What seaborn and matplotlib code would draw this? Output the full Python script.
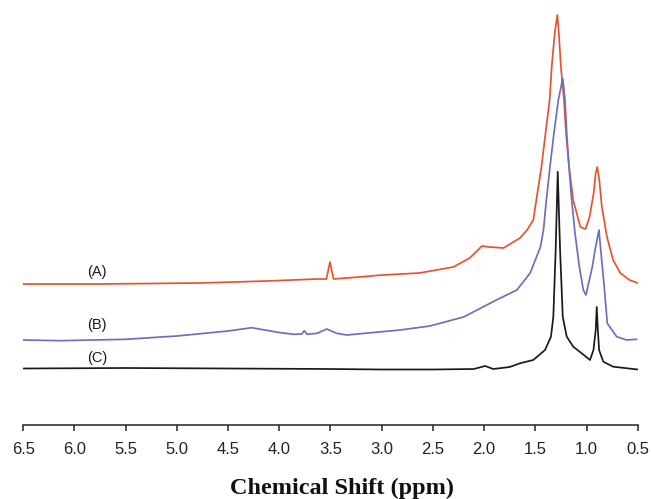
import matplotlib
matplotlib.use("Agg")
import matplotlib.pyplot as plt
from matplotlib.patches import Rectangle
import seaborn as sns

# ---- data (chemical shift in ppm, intensity in arbitrary units) ----
red_ppm = [6.50, 5.75, 4.77, 4.12, 3.63, 3.54, 3.505, 3.47, 3.34, 2.99, 2.63, 2.30,
           2.14, 2.02, 1.95, 1.81, 1.65, 1.58, 1.52, 1.49, 1.44, 1.40, 1.36, 1.34,
           1.31, 1.285, 1.27, 1.25, 1.22, 1.20, 1.17, 1.13, 1.06, 1.01, 0.97, 0.93,
           0.91, 0.895, 0.875, 0.85, 0.80, 0.74, 0.67, 0.58, 0.50]
red_int = [141, 141, 142, 144, 146, 146, 163, 146, 147, 150, 152, 158,
           167, 179, 178, 177, 187, 195, 205, 225, 258, 292, 325, 358,
           392, 410, 392, 358, 325, 292, 258, 225, 198, 196, 208, 232,
           252, 258, 245, 218, 188, 165, 152, 145, 142]

blue_ppm = [6.50, 6.14, 5.50, 5.00, 4.50, 4.27, 3.99, 3.86, 3.78, 3.756, 3.73, 3.63,
            3.537, 3.44, 3.34, 2.82, 2.53, 2.20, 1.88, 1.68, 1.55, 1.45, 1.42, 1.395,
            1.357, 1.318, 1.275, 1.232, 1.21, 1.193, 1.171, 1.145, 1.112, 1.07,
            1.031, 1.005, 0.943, 0.917, 0.878, 0.861, 0.83, 0.797, 0.705, 0.607,
            0.51]
blue_int = [85, 84.3, 85.7, 89, 94, 97.3, 92.3, 90.7, 91, 94.3, 90.7, 91.7,
            96, 91.7, 90, 95, 99, 108, 125, 135, 152, 178, 195, 222,
            258, 291.7, 325, 346.7, 325, 291.7, 258.3, 225, 191.7, 158.3,
            135, 130, 158.3, 175, 195, 175, 141.7, 101.7, 88.3, 85, 85.7]

black_ppm = [6.50, 5.50, 4.50, 3.50, 3.00, 2.50, 2.10, 1.99, 1.91, 1.75, 1.65, 1.52,
             1.405, 1.347, 1.324, 1.301, 1.281, 1.258, 1.232, 1.193, 1.129, 1.047,
             0.966, 0.932, 0.910, 0.900, 0.889, 0.877, 0.836, 0.74, 0.50]
black_int = [56.5, 57, 56.5, 56, 55.5, 55.5, 56, 59, 56, 58, 61.7, 65, 75,
             88.3, 108.3, 175, 253.3, 175, 108.3, 88.3, 78.3, 71.7, 65,
             75, 95, 118, 95, 75, 63.3, 58.3, 55.5]

trace_labels = ["(A)", "(B)", "(C)"]
label_ppm = [5.78, 5.78, 5.78]
label_int = [153, 99.7, 67]

tick_values = [6.5, 6.0, 5.5, 5.0, 4.5, 4.0, 3.5, 3.0, 2.5, 2.0, 1.5, 1.0, 0.5]
tick_labels = ["6.5", "6.0", "5.5", "5.0", "4.5", "4.0", "3.5", "3.0", "2.5",
               "2.0", "1.5", "1.0", "0.5"]
x_title = "Chemical Shift (ppm)"

# ---- styling ----
sns.set_style("white")
plt.rcParams['font.family'] = ['Liberation Sans', 'DejaVu Sans']

fig = plt.figure(figsize=(6.51, 4.99), dpi=100)
ax = fig.add_axes([23.3 / 651, 74 / 499, 614.4 / 651, 417 / 499])

colors = ["#E8532F", "#6B70BF", "#1A1A1A"]
for xs, ys, c in [(red_ppm, red_int, colors[0]),
                  (blue_ppm, blue_int, colors[1]),
                  (black_ppm, black_int, colors[2])]:
    sns.lineplot(x=xs, y=ys, color=c, linewidth=1.25, estimator=None,
                 sort=False, ax=ax)

for t, px, py in zip(trace_labels, label_ppm, label_int):
    ax.text(px, py, t, ha="center", va="center", fontsize=10.5, color="#1a1a1a")

ax.set_xlim(6.5, 0.5)
ax.set_ylim(0, 417)
ax.set_xticks(tick_values)
ax.set_xticklabels(tick_labels)
ax.set_yticks([])
for s in ["left", "top", "right"]:
    ax.spines[s].set_visible(False)
ax.spines["bottom"].set_color("#333333")
ax.spines["bottom"].set_linewidth(1.2)
ax.tick_params(axis="x", direction="out", length=4.5, width=1.2, color="#333333",
               pad=8, labelsize=12, labelcolor="#222222", bottom=True)

lab = ax.set_xlabel(x_title, fontfamily="Liberation Serif", fontweight="bold",
                    fontsize=17.5, color="#111111")
lab.set_verticalalignment("baseline")
ax.xaxis.set_label_coords(0.518, -0.166)
ax.set_ylabel("")

# the reference image is cropped at its left edge (part of the "6.5" label hidden)
fig.add_artist(Rectangle((0, 0), 14 / 651, 1, transform=fig.transFigure,
                         facecolor="white", edgecolor="none", zorder=10))

fig.savefig("out.png", dpi=100)
